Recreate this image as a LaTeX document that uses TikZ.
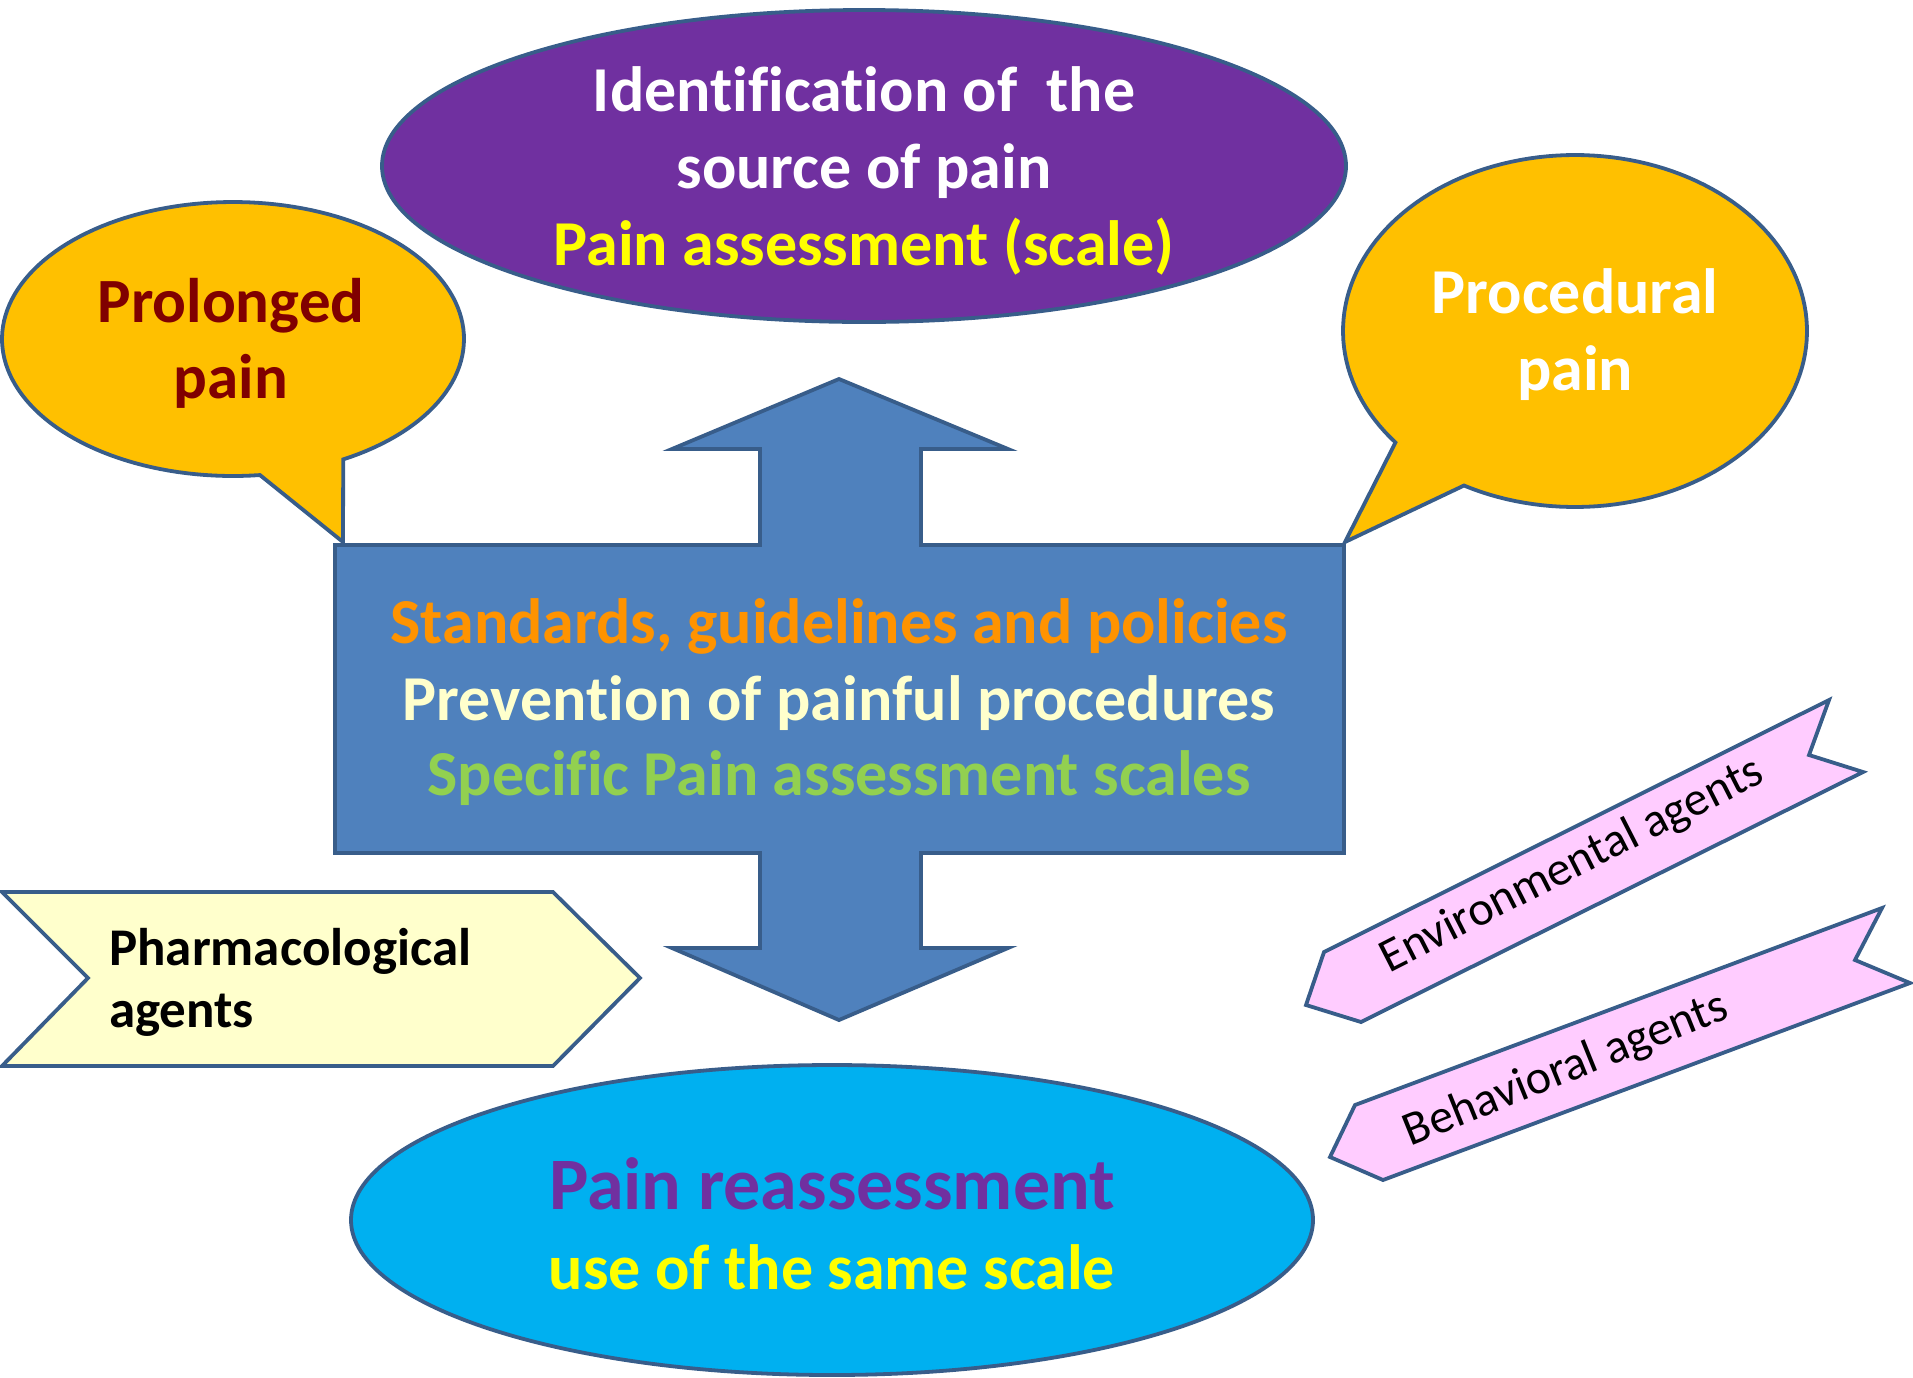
\documentclass[tikz,border=0pt]{standalone}
\usepackage{fontspec}
\setmainfont[Ligatures=NoCommon]{Carlito}
\usetikzlibrary{shapes.geometric}
\definecolor{outl}{HTML}{385D8A}
\definecolor{purp}{HTML}{7030A0}
\definecolor{gold}{HTML}{FFC000}
\definecolor{steel}{HTML}{4F81BD}
\definecolor{cyanb}{HTML}{00B0F0}
\definecolor{cream}{HTML}{FFFFCC}
\definecolor{pinkr}{HTML}{FFCCFF}
\definecolor{darkred}{HTML}{800000}
\definecolor{orangetx}{HTML}{FF9300}
\definecolor{greentx}{HTML}{92D050}
\definecolor{yellowtx}{HTML}{FFFF00}
\tikzset{
  shapeline/.style={draw=outl, line width=3.8pt, line join=miter},
  bigtxt/.style={font=\fontsize{64}{72}\selectfont\bfseries, anchor=base, inner sep=0pt},
  ribtxt/.style={font=\fontsize{48}{58}\selectfont, inner sep=0pt},
}
\begin{document}
\begin{tikzpicture}[x=1pt,y=-1pt]
\useasboundingbox (0,0) rectangle (1913,1377);
% purple ellipse
\draw[shapeline, fill=purp] (864,166) ellipse [x radius=482pt, y radius=156pt];
\node[bigtxt, text=white] (id1) at (864,111) {Identification of\ \ the};
\node[bigtxt, text=white] (id2) at (864,188) {source of pain};
\node[bigtxt, text=yellowtx] (id3) at (864,265) {Pain assessment (scale)};
% prolonged callout
\draw[shapeline, fill=gold] plot[domain=83.3:421.5, samples=150] ({233+231*cos(\x)},{339+137*sin(\x)}) -- (343,542) -- cycle;
\node[bigtxt, text=darkred, font=\fontsize{63}{72}\selectfont\bfseries] (pr1) at (231,322) {Prolonged};
\node[bigtxt, text=darkred, font=\fontsize{63}{72}\selectfont\bfseries] (pr2) at (231,398) {pain};
% procedural callout
\draw[shapeline, fill=gold] plot[domain=140.7:478.6, samples=150] ({1575+232*cos(\x)},{331+176*sin(\x)}) -- (1345,542) -- cycle;
\node[bigtxt, text=white] (pc1) at (1575,313) {Procedural};
\node[bigtxt, text=white] (pc2) at (1575,390) {pain};
% central double arrow
\draw[shapeline, fill=steel] (335,545) -- (760,545) -- (760,449) -- (672,449) -- (839,379) -- (1008,449) -- (921,449) -- (921,545) -- (1344,545) -- (1344,853) -- (921,853) -- (921,948) -- (1008,948) -- (839,1020) -- (672,948) -- (760,948) -- (760,853) -- (335,853) -- cycle;
\node[bigtxt, text=orangetx] (c1) at (839,643) {Standards, guidelines and policies};
\node[bigtxt, text=cream] (c2) at (839,720) {Prevention of painful procedures};
\node[bigtxt, text=greentx] (c3) at (839,795) {Specific Pain assessment scales};
% pharmacological chevron
\draw[shapeline, fill=cream] (2,892) -- (553,892) -- (640,978) -- (553,1066) -- (2,1066) -- (88,978) -- cycle;
\node[bigtxt, anchor=base west, text=black, font=\fontsize{53}{64}\selectfont\bfseries] (ph1) at (109,965) {Pharmacological};
\node[bigtxt, anchor=base west, text=black, font=\fontsize{53}{64}\selectfont\bfseries] (ph2) at (109,1027) {agents};
% ribbons
\draw[shapeline, fill=pinkr] (1829,700) -- (1809,755) -- (1863,772) -- (1361,1022) -- (1306,1005) -- (1324,952) -- cycle;
\node[ribtxt, rotate=27] (env) at (1572,866) {Environmental agents};
\draw[shapeline, fill=pinkr] (1882,908) -- (1855,960) -- (1910,983) -- (1383,1180) -- (1330,1157) -- (1355,1105) -- cycle;
\node[ribtxt, rotate=22] (beh) at (1566,1070) {Behavioral agents};
% cyan ellipse
\draw[shapeline, fill=cyanb] (832,1220) ellipse [x radius=481pt, y radius=155pt];
\node[bigtxt, text=purp, font=\fontsize{74}{80}\selectfont\bfseries] (r1) at (832,1209) {Pain reassessment};
\node[bigtxt, text=yellowtx] (r2) at (832,1289) {use of the same scale};
\end{tikzpicture}
\end{document}
